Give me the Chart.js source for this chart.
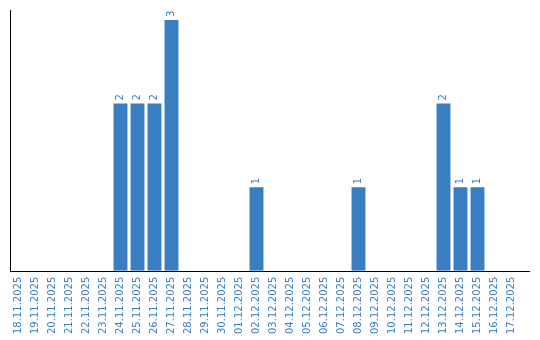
<!DOCTYPE html>
<html>
<head>
<meta charset="utf-8">
<script src="https://cdn.jsdelivr.net/npm/chart.js@4"></script>
<style>
  body { margin: 0; background: #fff; }
  #wrap { width: 540px; height: 340px; }
</style>
</head>
<body>
<div id="wrap"><canvas id="grafico"></canvas></div>
<script>
const fechas = [
  "18.11.2025", "19.11.2025", "20.11.2025", "21.11.2025", "22.11.2025", "23.11.2025",
  "24.11.2025", "25.11.2025", "26.11.2025", "27.11.2025", "28.11.2025", "29.11.2025",
  "30.11.2025", "01.12.2025", "02.12.2025", "03.12.2025", "04.12.2025", "05.12.2025",
  "06.12.2025", "07.12.2025", "08.12.2025", "09.12.2025", "10.12.2025", "11.12.2025",
  "12.12.2025", "13.12.2025", "14.12.2025", "15.12.2025", "16.12.2025", "17.12.2025"
];
const valores = [
  0, 0, 0, 0, 0, 0,
  2, 2, 2, 3, 0, 0,
  0, 0, 1, 0, 0, 0,
  0, 0, 1, 0, 0, 0,
  0, 2, 1, 1, 0, 0
];

const azul = "#3a7ec2";

// etiquetas de valor giradas sobre cada barra + linea del eje x
const extras = {
  id: "extras",
  afterDatasetsDraw(chart) {
    const ctx = chart.ctx;
    const meta = chart.getDatasetMeta(0);
    ctx.save();
    ctx.fillStyle = azul;
    ctx.font = "10px 'DejaVu Sans'";
    ctx.textAlign = "left";
    ctx.textBaseline = "middle";
    meta.data.forEach((bar, i) => {
      if (!valores[i]) return;
      ctx.save();
      ctx.translate(bar.x, bar.y - 3);
      ctx.rotate(-Math.PI / 2);
      ctx.fillText(String(valores[i]), 0, 0);
      ctx.restore();
    });
    const a = chart.chartArea;
    ctx.strokeStyle = "#000";
    ctx.lineWidth = 1;
    ctx.beginPath();
    ctx.moveTo(a.left, Math.round(a.bottom) + 0.5);
    ctx.lineTo(a.right + 10, Math.round(a.bottom) + 0.5);
    ctx.stroke();
    ctx.restore();
  }
};

const ctx = document.getElementById("grafico").getContext("2d");
new Chart(ctx, {
  type: "bar",
  data: {
    labels: fechas,
    datasets: [{
      data: valores,
      backgroundColor: azul,
      barPercentage: 0.82,
      categoryPercentage: 1
    }]
  },
  options: {
    responsive: true,
    maintainAspectRatio: false,
    animation: false,
    layout: { padding: { left: 10, top: 10, right: 20, bottom: 0 } },
    plugins: { legend: { display: false }, tooltip: { enabled: false } },
    scales: {
      x: {
        grid: { display: false, drawTicks: false },
        border: { display: false },
        ticks: {
          color: azul,
          font: { family: "'DejaVu Sans'", size: 10 },
          minRotation: 90,
          maxRotation: 90,
          autoSkip: false,
          padding: 6
        }
      },
      y: {
        min: 0,
        max: 3.12,
        grid: { display: false, drawTicks: false },
        border: { display: true, color: "#000", width: 1 },
        ticks: { display: false }
      }
    }
  },
  plugins: [extras]
});
</script>
</body>
</html>
